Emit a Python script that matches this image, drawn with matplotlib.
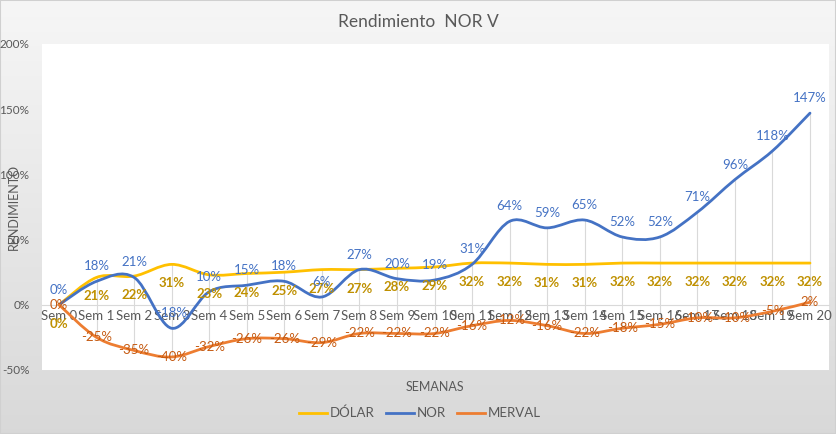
import numpy as np
import matplotlib
matplotlib.use("Agg")
import matplotlib.pyplot as plt
from matplotlib.path import Path
from matplotlib.patches import PathPatch
from matplotlib.lines import Line2D

plt.rcParams['font.family'] = ['Lato', 'DejaVu Sans']

weeks = [f"Sem {i}" for i in range(21)]
dolar = [0, 21, 22, 31, 23, 24, 25, 27, 27, 28, 29, 32, 32, 31, 31, 32, 32, 32, 32, 32, 32]
nor = [0, 18, 21, -18, 10, 15, 18, 6, 27, 20, 19, 31, 64, 59, 65, 52, 52, 71, 96, 118, 147]
merval = [0, -25, -35, -40, -32, -26, -26, -29, -22, -22, -22, -16, -12, -16, -22, -18, -15, -10, -10, -5, 2]

series = [("DÓLAR", dolar, "#FFC000", "#BF9000", -19),
          ("NOR", nor, "#4472C4", "#4472C4", 15),
          ("MERVAL", merval, "#ED7D31", "#C55A11", 0)]

W, H = 836, 434
fig = plt.figure(figsize=(W / 100, H / 100), dpi=100)

# background gradient
bg = fig.add_axes([0, 0, 1, 1], zorder=-10)
grad = np.linspace(0, 1, 256).reshape(-1, 1)
top = np.array([0.965, 0.965, 0.965])
bot = np.array([0.85, 0.85, 0.85])
img = top + (bot - top) * grad[..., None] * np.ones((1, 1, 3))
bg.imshow(img, aspect='auto', extent=[0, 1, 0, 1], origin='upper')
bg.set_axis_off()
bg.add_patch(plt.Rectangle((0, 0), 1, 1, transform=bg.transAxes, fill=False,
                           edgecolor='#d0d0d0', lw=1.5))

ax = fig.add_axes([42 / W, 1 - 370 / H, (829 - 42) / W, (370 - 44) / H])
ax.set_facecolor('white')
x = np.arange(len(weeks))


def smooth_path(xs, ys):
    pts = np.column_stack([xs, ys]).astype(float)
    verts = [pts[0]]
    codes = [Path.MOVETO]
    n = len(pts)
    for i in range(n - 1):
        p0 = pts[i - 1] if i > 0 else pts[i]
        p1 = pts[i]
        p2 = pts[i + 1]
        p3 = pts[i + 2] if i + 2 < n else pts[i + 1]
        c1 = p1 + (p2 - p0) / 6.0
        c2 = p2 - (p3 - p1) / 6.0
        verts += [c1, c2, p2]
        codes += [Path.CURVE4] * 3
    return Path(verts, codes)


# drop lines
for i in x:
    vals = [dolar[i], nor[i], merval[i], 0]
    ax.vlines(i, min(vals), max(vals), color='#d9d9d9', lw=0.8, zorder=1)

for name, vals, col, lcol, off in series:
    patch = PathPatch(smooth_path(x, vals), facecolor='none', edgecolor=col,
                      lw=2.0, zorder=3, capstyle='round', joinstyle='round')
    ax.add_patch(patch)
    for xi, v in zip(x, vals):
        ax.annotate(f"{v}%", (xi, v), xytext=(0, off), textcoords='offset pixels',
                    ha='center', va='center', fontsize=9.5, color=lcol,
                    fontweight='bold' if name == "DÓLAR" else 'normal', zorder=5)

ax.set_xlim(-0.453, 20.506)
ax.set_ylim(-50, 200)
ax.set_yticks([-50, 0, 50, 100, 150, 200])
ax.set_yticklabels([f"{v}%" for v in [-50, 0, 50, 100, 150, 200]])
ax.set_xticks(x)
ax.set_xticklabels(weeks)
for s in ['top', 'right', 'left']:
    ax.spines[s].set_visible(False)
ax.spines['bottom'].set_position(('data', 0))
ax.spines['bottom'].set_color('#d9d9d9')
ax.tick_params(axis='x', length=0, pad=4, labelsize=9.5, labelcolor='#595959')
ax.tick_params(axis='y', length=0, pad=9, labelsize=8.5, labelcolor='#595959')

fig.text(418 / W, 1 - 22 / H, "Rendimiento  NOR V", ha='center', va='center',
         fontsize=12.5, color='#595959')
fig.text(14 / W, 1 - 207 / H, "RENDIMIENTO", rotation=90, ha='center', va='center',
         fontsize=9, color='#595959')
fig.text(435 / W, 1 - 387 / H, "SEMANAS", ha='center', va='center',
         fontsize=9, color='#595959')

handles = [Line2D([], [], color=c, lw=2.0) for _, _, c, _, _ in series]
leg = fig.legend(handles, [s[0] for s in series], loc='center',
                 bbox_to_anchor=(420 / W, 1 - 413 / H), ncol=3, frameon=False,
                 fontsize=9.5, handlelength=2.1, handletextpad=0.2, columnspacing=0.9)
for t in leg.get_texts():
    t.set_color('#595959')

fig.savefig("out.png", dpi=100)
